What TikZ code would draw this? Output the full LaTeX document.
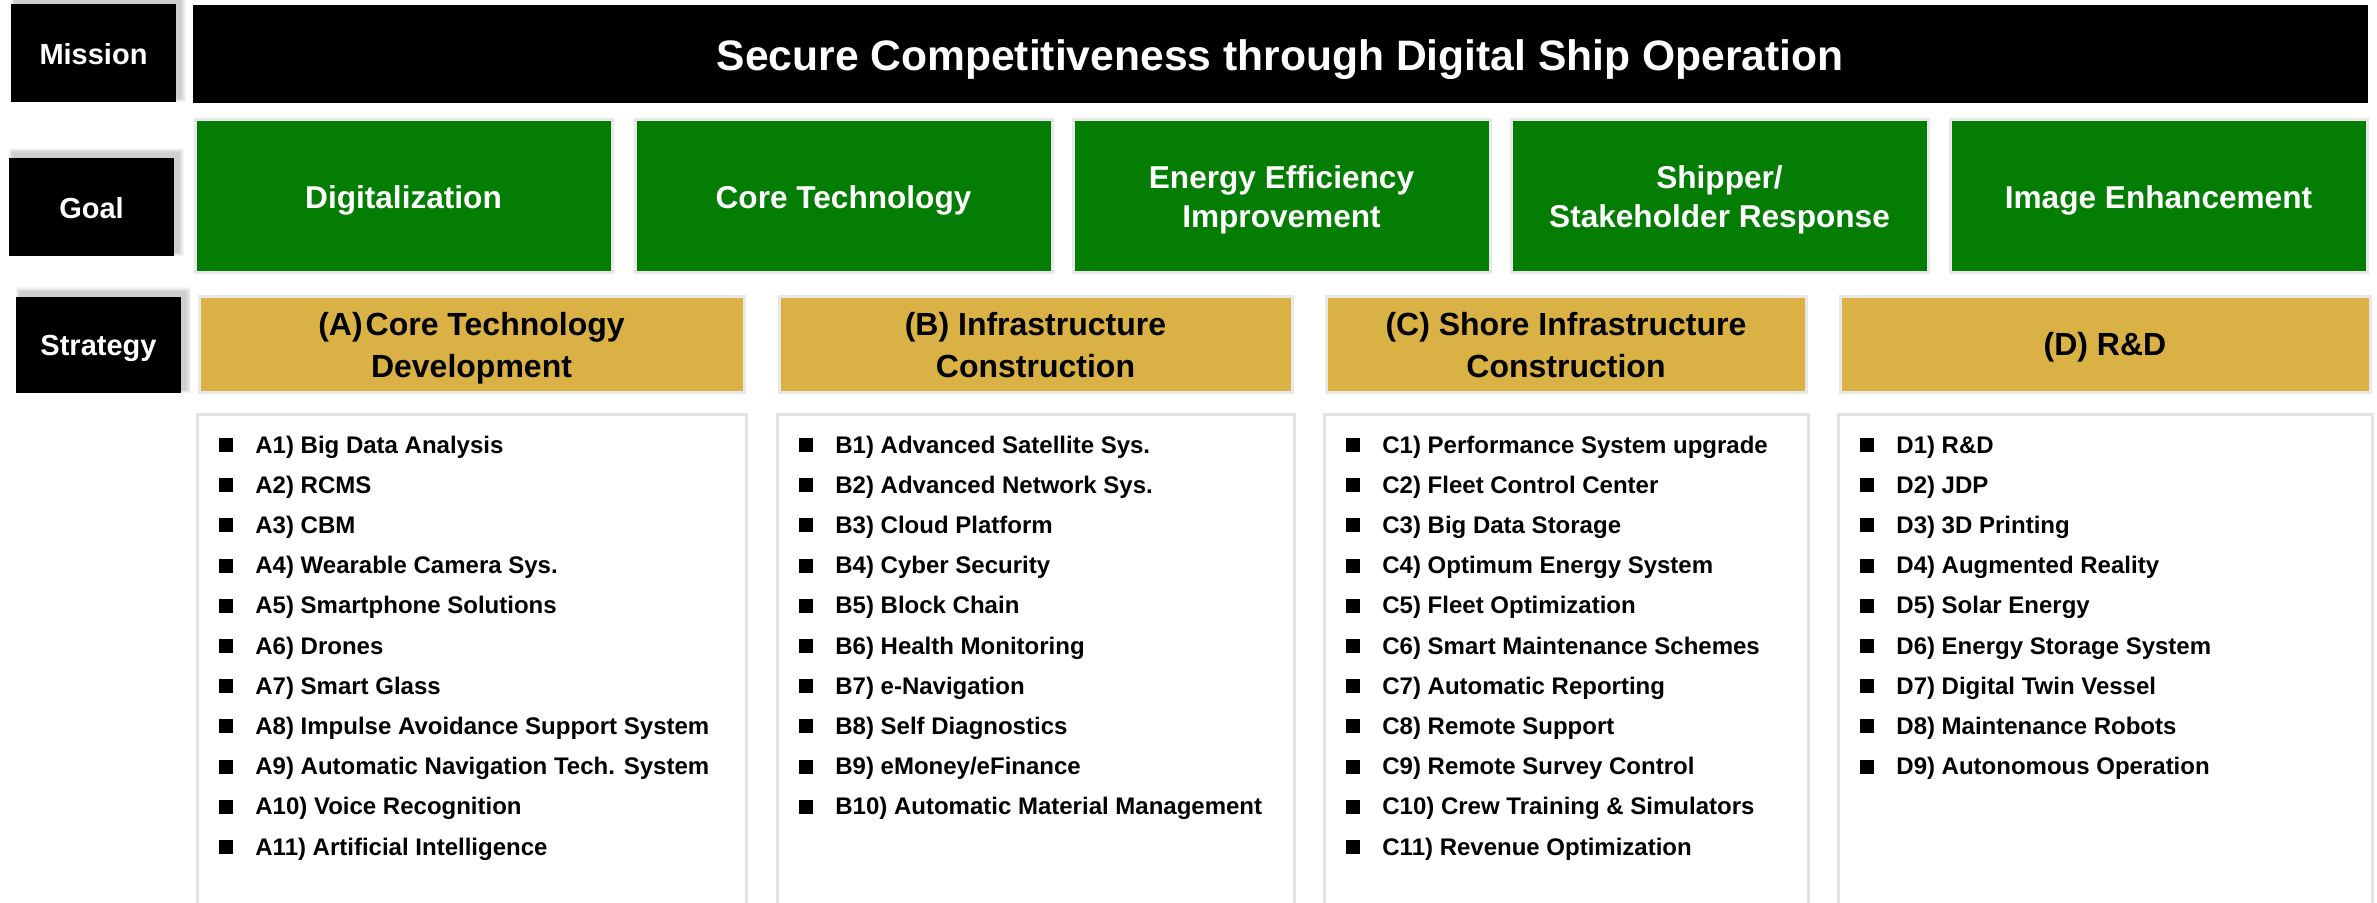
\documentclass[tikz,border=0pt]{standalone}
\usepackage{fontspec}
\setmainfont{Liberation Sans}
\definecolor{goalgreen}{RGB}{3,125,3}
\definecolor{stratgold}{RGB}{217,177,68}
\definecolor{edgegray}{RGB}{232,232,232}
\definecolor{listgray}{RGB}{226,226,226}
\newcommand\bx[6]{\node[box,#2,minimum width={(#5-#3)*0.5pt},minimum height={(#6-#4)*0.5pt}] (#1) at (#3,#4) {};}
\newcommand\shd[4]{\foreach \k in {1,...,7}{\fill[black,opacity=0.028] (#1+4-\k*0.6,#2-4-\k*0.9) rectangle (#3+4+\k*0.9,#4-4+\k*0.6);}}
\newcommand\itemlist[3]{%
  \foreach \t [count=\i] in {#3}{%
    \fill ({#2+22},{438+40.2*(\i-1)}) rectangle +(14,14);
    \node[itemtext] (#1\i) at ({#2+58},{453+40.2*(\i-1)}) {\t};
  }}
\begin{document}
\begin{tikzpicture}[x=0.5pt,y=-0.5pt,
  box/.style={inner sep=0pt,outer sep=0pt,anchor=north west},
  labelbox/.style={fill=black},
  missionbar/.style={fill=black},
  goalbox/.style={fill=goalgreen,draw=edgegray,line width=1.5pt},
  stratbox/.style={fill=stratgold,draw=edgegray,line width=1.5pt},
  listbox/.style={fill=white,draw=listgray,line width=1.5pt},
  labeltext/.style={inner sep=0pt,anchor=base,text=white,font=\fontsize{14.5}{17}\selectfont\bfseries},
  missiontext/.style={inner sep=0pt,anchor=base,text=white,font=\fontsize{21.3}{25}\selectfont\bfseries},
  goaltext/.style={inner sep=0pt,anchor=base,text=white,font=\fontsize{15.8}{19}\selectfont\bfseries},
  strattext/.style={inner sep=0pt,anchor=base,text=black,font=\fontsize{16}{19}\selectfont\bfseries},
  itemtext/.style={inner sep=0pt,anchor=base west,text=black,font=\fontsize{12}{14}\selectfont\bfseries}]
\useasboundingbox (0,0) rectangle (2377,902);
\fill[white] (0,0) rectangle (2377,902);

% row labels with shadows
\shd{11}{4}{176}{102}
\bx{Lm}{labelbox}{11}{4}{176}{102}
\shd{9}{158}{174}{256}
\bx{Lg}{labelbox}{9}{158}{174}{256}
\shd{16}{297}{181}{393}
\bx{Ls}{labelbox}{16}{297}{181}{393}
\node[labeltext] (tLm) at (93.5,64) {Mission};
\node[labeltext] (tLg) at (91.5,218) {Goal};
\node[labeltext] (tLs) at (98.5,355) {Strategy};

% mission
\bx{M}{missionbar}{193}{5}{2368}{103}
\node[missiontext] (tM) at (1280,70) {Secure Competitiveness through Digital Ship Operation};

% goals
\bx{G1}{goalbox}{195}{119}{612}{272}
\bx{G2}{goalbox}{635}{119}{1052}{272}
\bx{G3}{goalbox}{1073}{119}{1490}{272}
\bx{G4}{goalbox}{1511}{119}{1928}{272}
\bx{G5}{goalbox}{1950}{119}{2367}{272}
\node[goaltext] (tG1) at (403.5,208) {Digitalization};
\node[goaltext] (tG2) at (843.5,208) {Core Technology};
\node[goaltext] (tG3a) at (1281.5,188) {Energy Efficiency};
\node[goaltext] (tG3b) at (1281.5,227) {Improvement};
\node[goaltext] (tG4a) at (1719.5,188) {Shipper/};
\node[goaltext] (tG4b) at (1719.5,227) {Stakeholder Response};
\node[goaltext] (tG5) at (2158.5,208) {Image Enhancement};

% strategies
\bx{SA}{stratbox}{199}{296}{744}{392}
\bx{SB}{stratbox}{779}{296}{1292}{392}
\bx{SC}{stratbox}{1326}{296}{1806}{392}
\bx{SD}{stratbox}{1840}{296}{2370}{392}
\node[strattext] (tSAa) at (471.5,335) {(A)\kern1.5pt Core Technology};
\node[strattext] (tSAb) at (471.5,377) {Development};
\node[strattext] (tSBa) at (1035.5,335) {(B) Infrastructure};
\node[strattext] (tSBb) at (1035.5,377) {Construction};
\node[strattext] (tSCa) at (1566,335) {(C) Shore Infrastructure};
\node[strattext] (tSCb) at (1566,377) {Construction};
\node[strattext] (tSD) at (2105,355) {(D) R\&D};

% lists
\bx{LA}{listbox}{197}{414}{746}{920}
\bx{LB}{listbox}{777}{414}{1294}{920}
\bx{LC}{listbox}{1324}{414}{1808}{920}
\bx{LD}{listbox}{1838}{414}{2372}{920}
\useasboundingbox (0,0) rectangle (2377,902);

\itemlist{A}{197}{A1) Big Data Analysis, A2) RCMS, A3) CBM, A4) Wearable Camera Sys., A5) Smartphone Solutions, A6) Drones, A7) Smart Glass, A8) Impulse Avoidance Support System, A9) Automatic Navigation Tech. System, A10) Voice Recognition, A11) Artificial Intelligence}
\itemlist{B}{777}{B1) Advanced Satellite Sys., B2) Advanced Network Sys., B3) Cloud Platform, B4) Cyber Security, B5) Block Chain, B6) Health Monitoring, B7) e-Navigation, B8) Self Diagnostics, B9) eMoney/eFinance, B10) Automatic Material Management}
\itemlist{C}{1324}{C1) Performance System upgrade, C2) Fleet Control Center, C3) Big Data Storage, C4) Optimum Energy System, C5) Fleet Optimization, C6) Smart Maintenance Schemes, C7) Automatic Reporting, C8) Remote Support, C9) Remote Survey Control, C10) Crew Training \& Simulators, C11) Revenue Optimization}
\itemlist{D}{1838}{D1) R\&D, D2) JDP, D3) 3D Printing, D4) Augmented Reality, D5) Solar Energy, D6) Energy Storage System, D7) Digital Twin Vessel, D8) Maintenance Robots, D9) Autonomous Operation}
\end{tikzpicture}
\end{document}
